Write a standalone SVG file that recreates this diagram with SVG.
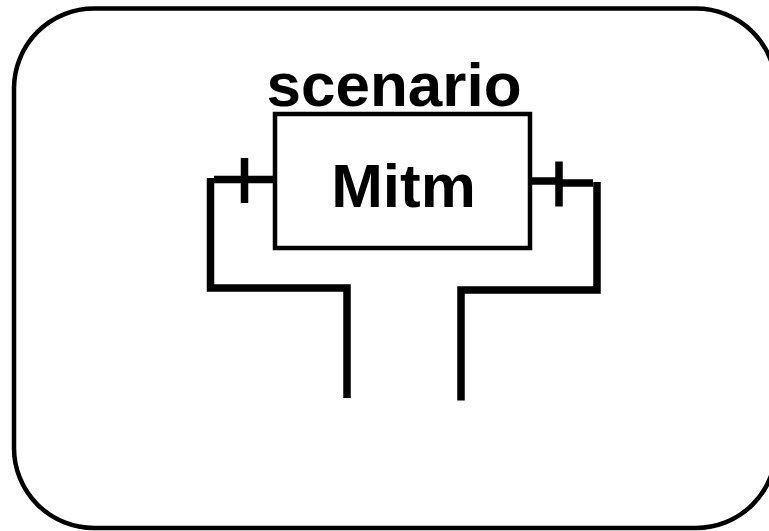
<svg xmlns="http://www.w3.org/2000/svg" width="769" height="531" viewBox="0 0 769 531">
<style>
.frame{fill:none;stroke:#000;stroke-width:4.5}
.box{fill:#fff;stroke:#000;stroke-width:4.5}
.wire{fill:none;stroke:#000;stroke-width:7.5;stroke-linejoin:miter;stroke-linecap:butt}
.lbl{font-family:"Liberation Sans",Arial,sans-serif;font-weight:bold;font-size:62px;fill:#000;text-anchor:middle}
</style>
<rect width="769" height="531" fill="#fff"/>
<g id="scenario-frame">
<rect class="frame" x="14" y="8.5" width="762" height="519.5" rx="80" ry="80"/>
</g>
<g id="mitm">
<text class="lbl" x="394" y="106">scenario</text>
<rect class="box" x="275" y="114" width="255" height="134"/>
<text class="lbl" x="403.5" y="207">Mitm</text>
</g>
<g id="port-left">
<line class="wire" x1="214" y1="179.5" x2="273" y2="179.5"/>
<line class="wire" x1="244.5" y1="158" x2="244.5" y2="203"/>
</g>
<g id="port-right">
<line class="wire" x1="532" y1="181" x2="559" y2="181"/>
<line class="wire" x1="559" y1="183" x2="593" y2="183"/>
<line class="wire" x1="559" y1="161.5" x2="559" y2="206.5"/>
</g>
<g id="connectors">
<polyline class="wire" points="210.5,178 210.5,288 347,288 347,398"/>
<polyline class="wire" points="597,182 597,290 461,290 461,400.5"/>
</g>
</svg>
